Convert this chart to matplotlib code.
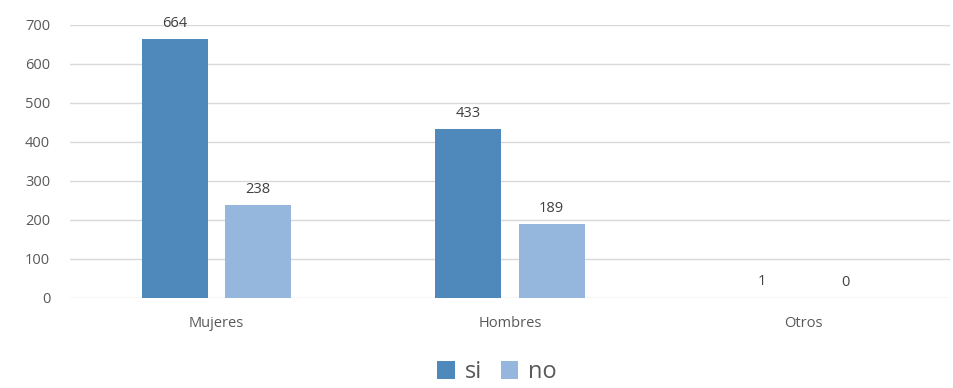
import numpy as np
from matplotlib import pyplot as plt

categorias = ["Mujeres", "Hombres", "Otros"]
si = [664, 433, 1]
no = [238, 189, 0]
series = ["si", "no"]

plt.rcParams['font.family'] = ['Open Sans', 'DejaVu Sans']
gris = '#595959'

fig = plt.figure(figsize=(9.54, 3.88), dpi=100)
ax = fig.add_axes([0.073, 0.232, 0.923, 0.704])

x = np.arange(len(categorias))
w = 0.225
b1 = ax.bar(x - 0.142, si, w, color='#4F88BB', label=series[0], zorder=3)
b2 = ax.bar(x + 0.142, no, w, color='#95B7DE', label=series[1], zorder=3)

# etiquetas de datos
for barras in (b1, b2):
    for r in barras:
        ax.annotate(str(int(r.get_height())),
                    (r.get_x() + r.get_width() / 2, r.get_height()),
                    xytext=(0, 6), textcoords='offset points',
                    ha='center', va='bottom', fontsize=10.5, color='#404040')

ax.set_xlim(-0.5, 2.5)
ax.set_ylim(0, 700)
ax.set_yticks(range(0, 701, 100))
ax.set_xticks(x)
ax.set_xticklabels(categorias)
ax.yaxis.grid(True, color='#D9D9D9', lw=1, zorder=0)
ax.tick_params(length=0, colors=gris, labelsize=10.5)
ax.tick_params(axis='x', pad=13)
ax.tick_params(axis='y', pad=14)
for s in ax.spines.values():
    s.set_visible(False)

fig.legend(loc='lower center', bbox_to_anchor=(0.521, -0.045), ncol=2, frameon=False,
           fontsize=17, handlelength=0.75, handleheight=0.75, handletextpad=0.4,
           columnspacing=0.8, labelcolor=gris)

fig.savefig('out.png', dpi=100)
